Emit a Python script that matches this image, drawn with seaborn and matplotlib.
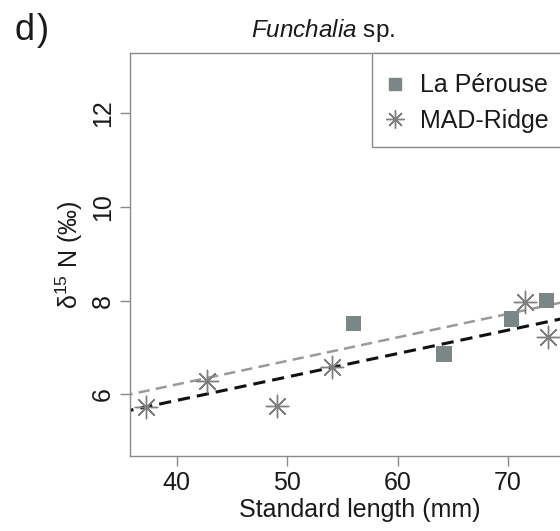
import matplotlib
matplotlib.use("Agg")
import matplotlib.pyplot as plt
from matplotlib.lines import Line2D
from matplotlib.patches import Rectangle
import seaborn as sns
import pandas as pd

# ---- data ----
lp_length = [56.0, 64.2, 70.3, 73.5]
lp_d15n = [7.52, 6.86, 7.61, 8.00]
mr_length = [37.2, 42.7, 49.05, 54.1, 71.5, 73.6]
mr_d15n = [5.72, 6.28, 5.75, 6.59, 7.97, 7.22]
fit_x = [35.0, 80.0]
fit_lp = [5.96, 8.22]
fit_mr = [5.62, 7.87]
site_names = ["La Pérouse", "MAD-Ridge"]
x_ticks = [40, 50, 60, 70]
y_ticks = [6, 8, 10, 12]

sns.set_theme(style="white")
plt.rcParams["font.family"] = ["Liberation Sans", "DejaVu Sans"]
plt.rcParams["mathtext.fontset"] = "custom"
plt.rcParams["mathtext.rm"] = "Liberation Sans"
plt.rcParams["mathtext.it"] = "Liberation Sans:italic"
plt.rcParams["mathtext.default"] = "regular"

W, H = 560, 531
fig = plt.figure(figsize=(W / 100, H / 100), dpi=100)
ax = fig.add_axes([130 / W, 1 - 456 / H, 460 / W, (456 - 53) / H])

lp = pd.DataFrame({"length": lp_length, "d15n": lp_d15n})
mr = pd.DataFrame({"length": mr_length, "d15n": mr_d15n})
fl = pd.DataFrame({"length": fit_x, "lp": fit_lp, "mr": fit_mr})

sq_col = "#7b8686"
ast_col = "#7f7f7f"
spine_col = "#8a8a8a"

sns.lineplot(data=fl, x="length", y="lp", ax=ax, color="#9a9a9a", lw=1.8,
             linestyle=(0, (4.5, 2.5)))
sns.lineplot(data=fl, x="length", y="mr", ax=ax, color="#111111", lw=2.2,
             linestyle=(0, (4.0, 2.3)))
sns.scatterplot(data=lp, x="length", y="d15n", ax=ax, marker="s", s=120,
                color=sq_col, edgecolor="none", zorder=3)
sns.scatterplot(data=mr, x="length", y="d15n", ax=ax, marker=(8, 2, 0), s=260,
                color=ast_col, linewidth=1.0, zorder=3)

ax.set_xlim(35.77, 77.43)
ax.set_ylim(4.683, 13.288)
ax.set_xticks(x_ticks)
ax.set_yticks(y_ticks)
ax.set_yticklabels([str(v) for v in y_ticks], rotation=90, va="center")
for sp in ax.spines.values():
    sp.set_color(spine_col)
    sp.set_linewidth(1.0)
ax.tick_params(axis="both", direction="out", length=7, width=1.0,
               color=spine_col, labelsize=18, labelcolor="#1a1a1a", pad=4,
               bottom=True, left=True)
ax.set_xlabel("Standard length (mm)", fontsize=18, color="#1a1a1a", labelpad=2)
ax.set_ylabel(r"$\delta^{15}$ N (‰)", fontsize=18, color="#1a1a1a", labelpad=4)

# legend box (extends past the right edge, as in the reference)
fig.patches.append(Rectangle((372 / W, 1 - 147 / H), 240 / W, 94 / H,
                             transform=fig.transFigure, facecolor="white",
                             edgecolor=spine_col, linewidth=1.0, zorder=4))
handles = [
    Line2D([], [], marker="s", linestyle="none", color=sq_col, markersize=9),
    Line2D([], [], marker=(8, 2, 0), linestyle="none", color=ast_col,
           markersize=13, markeredgewidth=1.0),
]
leg = fig.legend(handles, site_names, loc="upper left",
                 bbox_to_anchor=(372 / W, 1 - 63 / H), fontsize=18,
                 frameon=False, handlelength=1.0, handletextpad=0.5,
                 labelspacing=0.45, borderpad=0.42, borderaxespad=0)
leg.set_zorder(5)
for t in leg.get_texts():
    t.set_color("#1a1a1a")

fig.text(323 / W, 1 - 37 / H, r"$\it{Funchalia}$ sp.", fontsize=17.5,
         ha="center", va="baseline", color="#1a1a1a")
fig.text(15 / W, 1 - 40 / H, "d", fontsize=26, ha="left", va="baseline",
         color="#1a1a1a")
fig.text(37 / W, 1 - 40 / H, ")", fontsize=26, ha="left", va="baseline",
         color="#1a1a1a")

fig.savefig("out.png", dpi=100)
